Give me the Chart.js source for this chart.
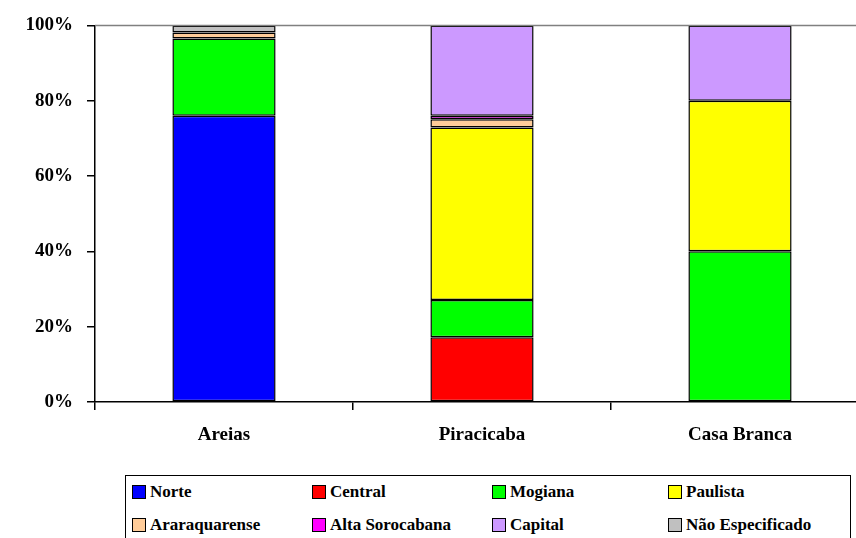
<!DOCTYPE html>
<html>
<head>
<meta charset="utf-8">
<script src="https://cdn.jsdelivr.net/npm/chart.js@4"></script>
<style>
  html, body { margin: 0; padding: 0; background: #fff; overflow: hidden; }
  #wrap { position: relative; width: 870px; height: 470px; }
  #legend {
    position: absolute; left: 125px; top: 475px; width: 726px; height: 80px;
    border: 1.5px solid #000; box-sizing: border-box;
    font: bold 17px 'Times New Roman', 'Liberation Serif', 'DejaVu Serif', serif; color: #000;
  }
  .item { position: absolute; display: flex; align-items: center; white-space: nowrap; }
  .sw { width: 12px; height: 12px; border: 1.5px solid #000; margin-right: 4px; }
</style>
</head>
<body>
<div id="wrap"><canvas id="chart"></canvas></div>
<div id="legend"></div>
<script>
// Data Setup
const categories = ['Areias', 'Piracicaba', 'Casa Branca'];
const norte = [76, null, null];
const central = [null, 17.2, null];
const mogiana = [20.5, 9.9, 40];
const paulista = [null, 45.8, 40];
const araraquarense = [1.6, 2.2, null];
const altaSorocabana = [null, 0.9, null];
const capital = [null, 24, 20];
const naoEspecificado = [1.9, null, null];
const yTicks = [0, 20, 40, 60, 80, 100];

const series = [
  { label: 'Norte', data: norte, color: '#0000ff' },
  { label: 'Central', data: central, color: '#ff0000' },
  { label: 'Mogiana', data: mogiana, color: '#00ff00' },
  { label: 'Paulista', data: paulista, color: '#ffff00' },
  { label: 'Araraquarense', data: araraquarense, color: '#ffcc99' },
  { label: 'Alta Sorocabana', data: altaSorocabana, color: '#ff00ff' },
  { label: 'Capital', data: capital, color: '#cc99ff' },
  { label: 'Não Especificado', data: naoEspecificado, color: '#c0c0c0' }
];

const serifFamily = "'Times New Roman', 'Liberation Serif', 'DejaVu Serif', serif";
const tickFont = { family: serifFamily, size: 19, weight: 'bold' };

// gray line along the top of the plot area
const topLine = {
  id: 'topLine',
  afterDraw(chart) {
    const { ctx, chartArea } = chart;
    ctx.save();
    ctx.strokeStyle = '#808080';
    ctx.lineWidth = 1.5;
    ctx.beginPath();
    ctx.moveTo(chartArea.left, chartArea.top);
    ctx.lineTo(chartArea.right, chartArea.top);
    ctx.stroke();
    ctx.restore();
  }
};

const chart = new Chart(document.getElementById('chart').getContext('2d'), {
  type: 'bar',
  data: {
    labels: categories,
    datasets: series.map(s => ({
      label: s.label,
      data: s.data,
      backgroundColor: s.color,
      borderColor: '#000',
      borderWidth: 1.5,
      borderSkipped: false,
      barPercentage: 0.4,
      categoryPercentage: 1
    }))
  },
  options: {
    responsive: true,
    maintainAspectRatio: false,
    animation: false,
    layout: { padding: { top: 20, right: 1, left: 0, bottom: 0 } },
    plugins: {
      legend: { display: false },
      tooltip: { enabled: false }
    },
    scales: {
      x: {
        stacked: true,
        offset: true,
        grid: { offset: true, drawOnChartArea: false, tickLength: 8, color: '#000', lineWidth: 1.5 },
        border: { color: '#000', width: 1.5 },
        ticks: { font: tickFont, color: '#000', padding: 14 },
        afterFit(scale) { scale.height = 68; }
      },
      y: {
        stacked: true,
        min: 0,
        max: 100,
        afterBuildTicks(scale) { scale.ticks = yTicks.map(v => ({ value: v })); },
        grid: { drawOnChartArea: false, tickLength: 8, color: '#000', lineWidth: 1.5 },
        border: { color: '#000', width: 1.5 },
        ticks: { font: tickFont, color: '#000', padding: 14, callback: v => v + '%' },
        afterFit(scale) { scale.width = 95; }
      }
    }
  },
  plugins: [topLine]
});

// Legend (4 columns x 2 rows)
const legendEl = document.getElementById('legend');
const colX = [6, 186, 366, 542];
const rowY = [6, 39];
series.forEach((s, i) => {
  const item = document.createElement('div');
  item.className = 'item';
  item.style.left = colX[i % 4] + 'px';
  item.style.top = rowY[Math.floor(i / 4)] + 'px';
  item.innerHTML = '<span class="sw" style="background:' + s.color + '"></span>' + s.label;
  legendEl.appendChild(item);
});
</script>
</body>
</html>
